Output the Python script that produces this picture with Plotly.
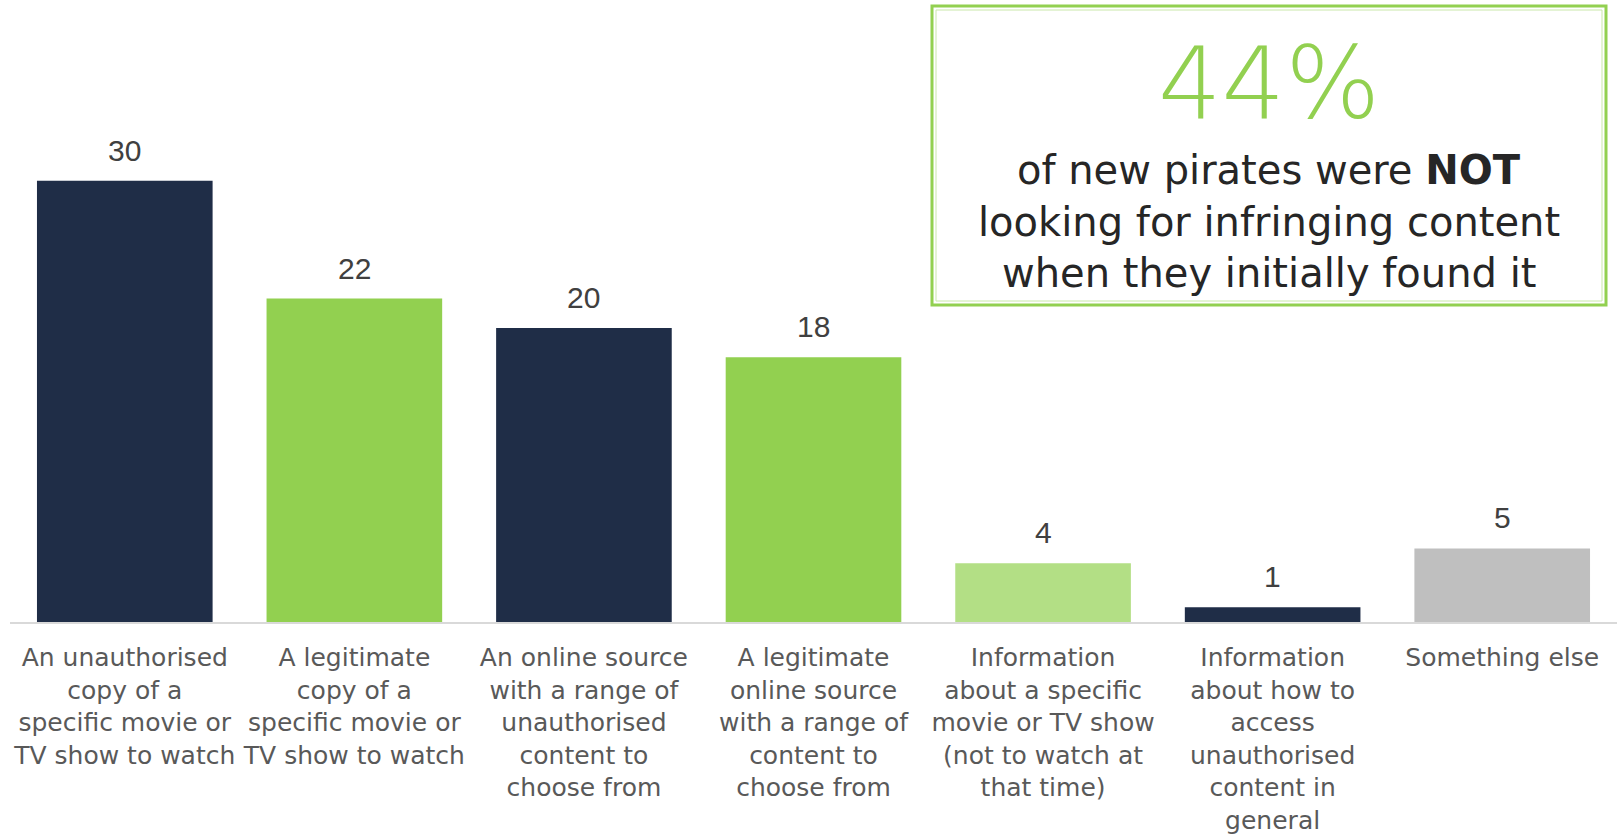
import plotly.graph_objects as go

# Survey responses: what new pirates were looking for when they first found infringing content (%)
categories = [
    "An unauthorised<br>copy of a<br>specific movie or<br>TV show to watch",
    "A legitimate<br>copy of a<br>specific movie or<br>TV show to watch",
    "An online source<br>with a range of<br>unauthorised<br>content to<br>choose from",
    "A legitimate<br>online source<br>with a range of<br>content to<br>choose from",
    "Information<br>about a specific<br>movie or TV show<br>(not to watch at<br>that time)",
    "Information<br>about how to<br>access<br>unauthorised<br>content in<br>general",
    "Something else",
]
values = [30, 22, 20, 18, 4, 1, 5]
bar_colors = ["#1F2D47", "#92D050", "#1F2D47", "#92D050", "#B3DF85", "#1F2D47", "#BFBFBF"]

headline_value = "44%"
headline_lines = [
    "of new pirates were <b>NOT</b>",
    "looking for infringing content",
    "when they initially found it",
]

W, H = 1617, 835
M_L, M_R, M_T, M_B = 10, 0, 0, 213
plot_w = W - M_L - M_R
plot_h = H - M_T - M_B

def px_x(x):
    return (x - M_L) / plot_w

def px_y(y):
    return 1 - (y - M_T) / plot_h

x_idx = list(range(len(categories)))

fig = go.Figure()
fig.add_trace(go.Bar(
    x=x_idx,
    y=values,
    marker=dict(color=bar_colors, line=dict(width=0)),
    hoverinfo="skip",
))

# value labels above each bar
for i, v in zip(x_idx, values):
    fig.add_annotation(
        x=i, y=v, xref="x", yref="y",
        text=str(v), showarrow=False,
        yanchor="bottom", yshift=12,
        font=dict(family="Liberation Sans, Arial, sans-serif", size=30, color="#404040"),
    )

# highlight box
fig.add_shape(
    type="rect", xref="paper", yref="paper",
    x0=px_x(932), x1=px_x(1606), y0=px_y(305), y1=px_y(6),
    line=dict(color="#92D050", width=3), fillcolor="rgba(0,0,0,0)",
)
fig.add_shape(
    type="rect", xref="paper", yref="paper",
    x0=px_x(936), x1=px_x(1602), y0=px_y(301), y1=px_y(10),
    line=dict(color="#C9E8AA", width=1), fillcolor="rgba(0,0,0,0)",
)
fig.add_annotation(
    x=px_x(1269), y=px_y(84), xref="paper", yref="paper",
    text=headline_value, showarrow=False, xanchor="center", yanchor="middle",
    font=dict(family="DejaVu Sans", size=100, color="#92D050", weight=200),
)
for line, yc in zip(headline_lines, [170, 222, 273]):
    fig.add_annotation(
        x=px_x(1269), y=px_y(yc), xref="paper", yref="paper",
        text=line, showarrow=False, xanchor="center", yanchor="middle",
        font=dict(family="DejaVu Sans", size=40, color="#262626"),
    )

fig.update_layout(
    width=W, height=H,
    margin=dict(l=M_L, r=M_R, t=M_T, b=M_B, pad=0),
    paper_bgcolor="white", plot_bgcolor="white",
    showlegend=False,
    bargap=0.235,
    xaxis=dict(
        tickmode="array", tickvals=x_idx, ticktext=categories,
        tickangle=0, showgrid=False, zeroline=False,
        showline=True, linecolor="#D9D9D9", linewidth=2,
        ticks="", ticklabelstandoff=12,
        tickfont=dict(family="DejaVu Sans", size=25, color="#595959"),
        range=[-0.5, 6.5], fixedrange=True,
    ),
    yaxis=dict(
        range=[0, 42.3], visible=False, showgrid=False, zeroline=False, fixedrange=True,
    ),
)

fig.write_html("out.html")
